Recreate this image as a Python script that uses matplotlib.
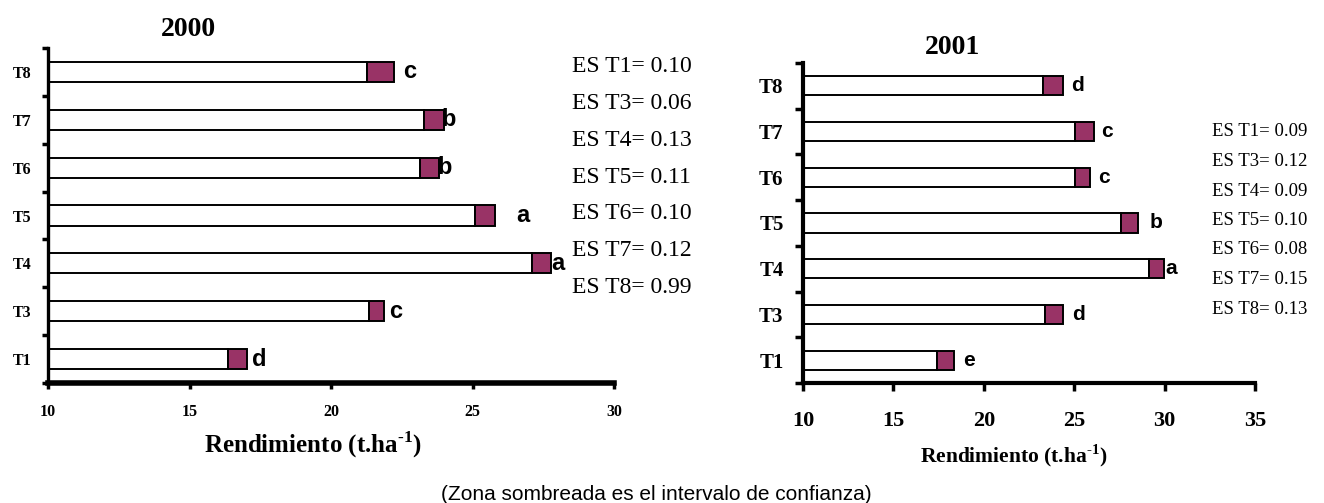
import matplotlib
matplotlib.use("Agg")
from matplotlib import pyplot as plt
import numpy as np

plt.rcParams['font.family'] = ['Liberation Serif', 'DejaVu Serif']
plt.rcParams['mathtext.fontset'] = 'custom'
plt.rcParams['mathtext.rm'] = 'Liberation Serif:bold'
plt.rcParams['mathtext.bf'] = 'Liberation Serif:bold'

# datos (de abajo hacia arriba)
tratamientos = ['T1', 'T3', 'T4', 'T5', 'T6', 'T7', 'T8']

inf_2000 = [16.35, 21.34, 27.09, 25.09, 23.13, 23.28, 21.26]
sup_2000 = [17.03, 21.88, 27.79, 25.79, 23.83, 23.98, 22.22]
letras_2000 = ['d', 'c', 'a', 'a', 'b', 'b', 'c']
xletra_2000 = [17.2, 22.05, 27.77, 26.55, 23.75, 23.9, 22.55]
es_2000 = [0.10, 0.06, 0.13, 0.11, 0.10, 0.12, 0.99]

inf_2001 = [17.41, 23.37, 29.13, 27.58, 25.07, 25.07, 23.27]
sup_2001 = [18.36, 24.38, 29.94, 28.51, 25.90, 26.12, 24.38]
letras_2001 = ['e', 'd', 'a', 'b', 'c', 'c', 'd']
xletra_2001 = [18.84, 24.9, 30.06, 29.17, 26.34, 26.5, 24.81]
es_2001 = [0.09, 0.12, 0.09, 0.10, 0.08, 0.15, 0.13]

PURPURA = '#993366'
W, H = 1324, 503
XLABEL = 'Rendimiento (t.ha$^{\\text{-}1}$)'


def px(x, y):
    # pixeles -> fraccion de figura
    return x / W, 1 - y / H


def panel(ax, inf, sup, letras, xletra, xmax, ysize, xsize, lsize, lw_bottom, lw_left, tlen, ypad, xpad):
    y = np.arange(len(tratamientos))
    inf = np.array(inf)
    sup = np.array(sup)
    ax.barh(y, inf - 10, left=10, height=0.42, color='white', edgecolor='black', linewidth=1.4, zorder=2)
    ax.barh(y, sup - inf, left=inf, height=0.42, color=PURPURA, edgecolor='black', linewidth=1.4, zorder=3)
    for yi, l, xl in zip(y, letras, xletra):
        ax.text(xl, yi, l, ha='left', va='center', fontsize=lsize, fontweight='bold',
                family=['Liberation Sans', 'DejaVu Sans'], zorder=4)
    ax.set_xlim(10, xmax)
    ax.set_ylim(-0.5, len(tratamientos) - 0.5)
    ax.set_xticks(np.arange(10, xmax + 1, 5))
    ax.set_yticks(np.arange(len(tratamientos) + 1) - 0.5)
    ax.set_yticklabels([])
    ax.set_yticks(y, minor=True)
    ax.set_yticklabels(tratamientos, minor=True, fontsize=ysize, fontweight='bold')
    ax.tick_params(axis='y', which='minor', length=0, pad=ypad)
    ax.tick_params(axis='y', which='major', length=tlen, width=2.5)
    ax.tick_params(axis='x', length=tlen, width=2.5, labelsize=xsize, pad=xpad)
    for t in ax.get_xticklabels():
        t.set_fontweight('bold')
    for s in ['top', 'right']:
        ax.spines[s].set_visible(False)
    ax.spines['bottom'].set_linewidth(lw_bottom)
    ax.spines['left'].set_linewidth(lw_left)
    ax.patch.set_alpha(0)


fig = plt.figure(figsize=(13.24, 5.03), dpi=100)

# 2000
x0, y1 = px(48, 48)
x1, y0 = px(614, 383)
ax1 = fig.add_axes([x0, y0, x1 - x0, y1 - y0])
panel(ax1, inf_2000, sup_2000, letras_2000, xletra_2000, 30, 11.5, 11.5, 17, 4, 2.4, 4, 12, 11)
ax1.text(0.468, -0.185, XLABEL, transform=ax1.transAxes,
         ha='center', va='center', fontsize=18, fontweight='bold')
fig.text(*px(188, 30), '2000', ha='center', va='center', fontsize=20, fontweight='bold')
for i, (t, v) in enumerate(zip(tratamientos, es_2000)):
    fig.text(*px(572, 67 + 36.7 * i), 'ES %s= %.2f' % (t, v), ha='left', va='center', fontsize=17)

# 2001
x0, y1 = px(803, 63)
x1, y0 = px(1255, 383)
ax2 = fig.add_axes([x0, y0, x1 - x0, y1 - y0])
panel(ax2, inf_2001, sup_2001, letras_2001, xletra_2001, 35, 15, 16, 15, 3, 3, 6, 14, 14)
ax2.text(0.467, -0.228, XLABEL, transform=ax2.transAxes,
         ha='center', va='center', fontsize=15.5, fontweight='bold')
fig.text(*px(953, 47), '2001', ha='center', va='center', fontsize=20, fontweight='bold')
for i, (t, v) in enumerate(zip(tratamientos, es_2001)):
    fig.text(*px(1212, 132 + 29.5 * i), 'ES %s= %.2f' % (t, v), ha='left', va='center', fontsize=13.5)

fig.text(*px(656, 494), '(Zona sombreada es el intervalo de confianza)', ha='center', va='center',
         fontsize=15, family=['Liberation Sans', 'DejaVu Sans'])

fig.savefig('out.png', dpi=100)
